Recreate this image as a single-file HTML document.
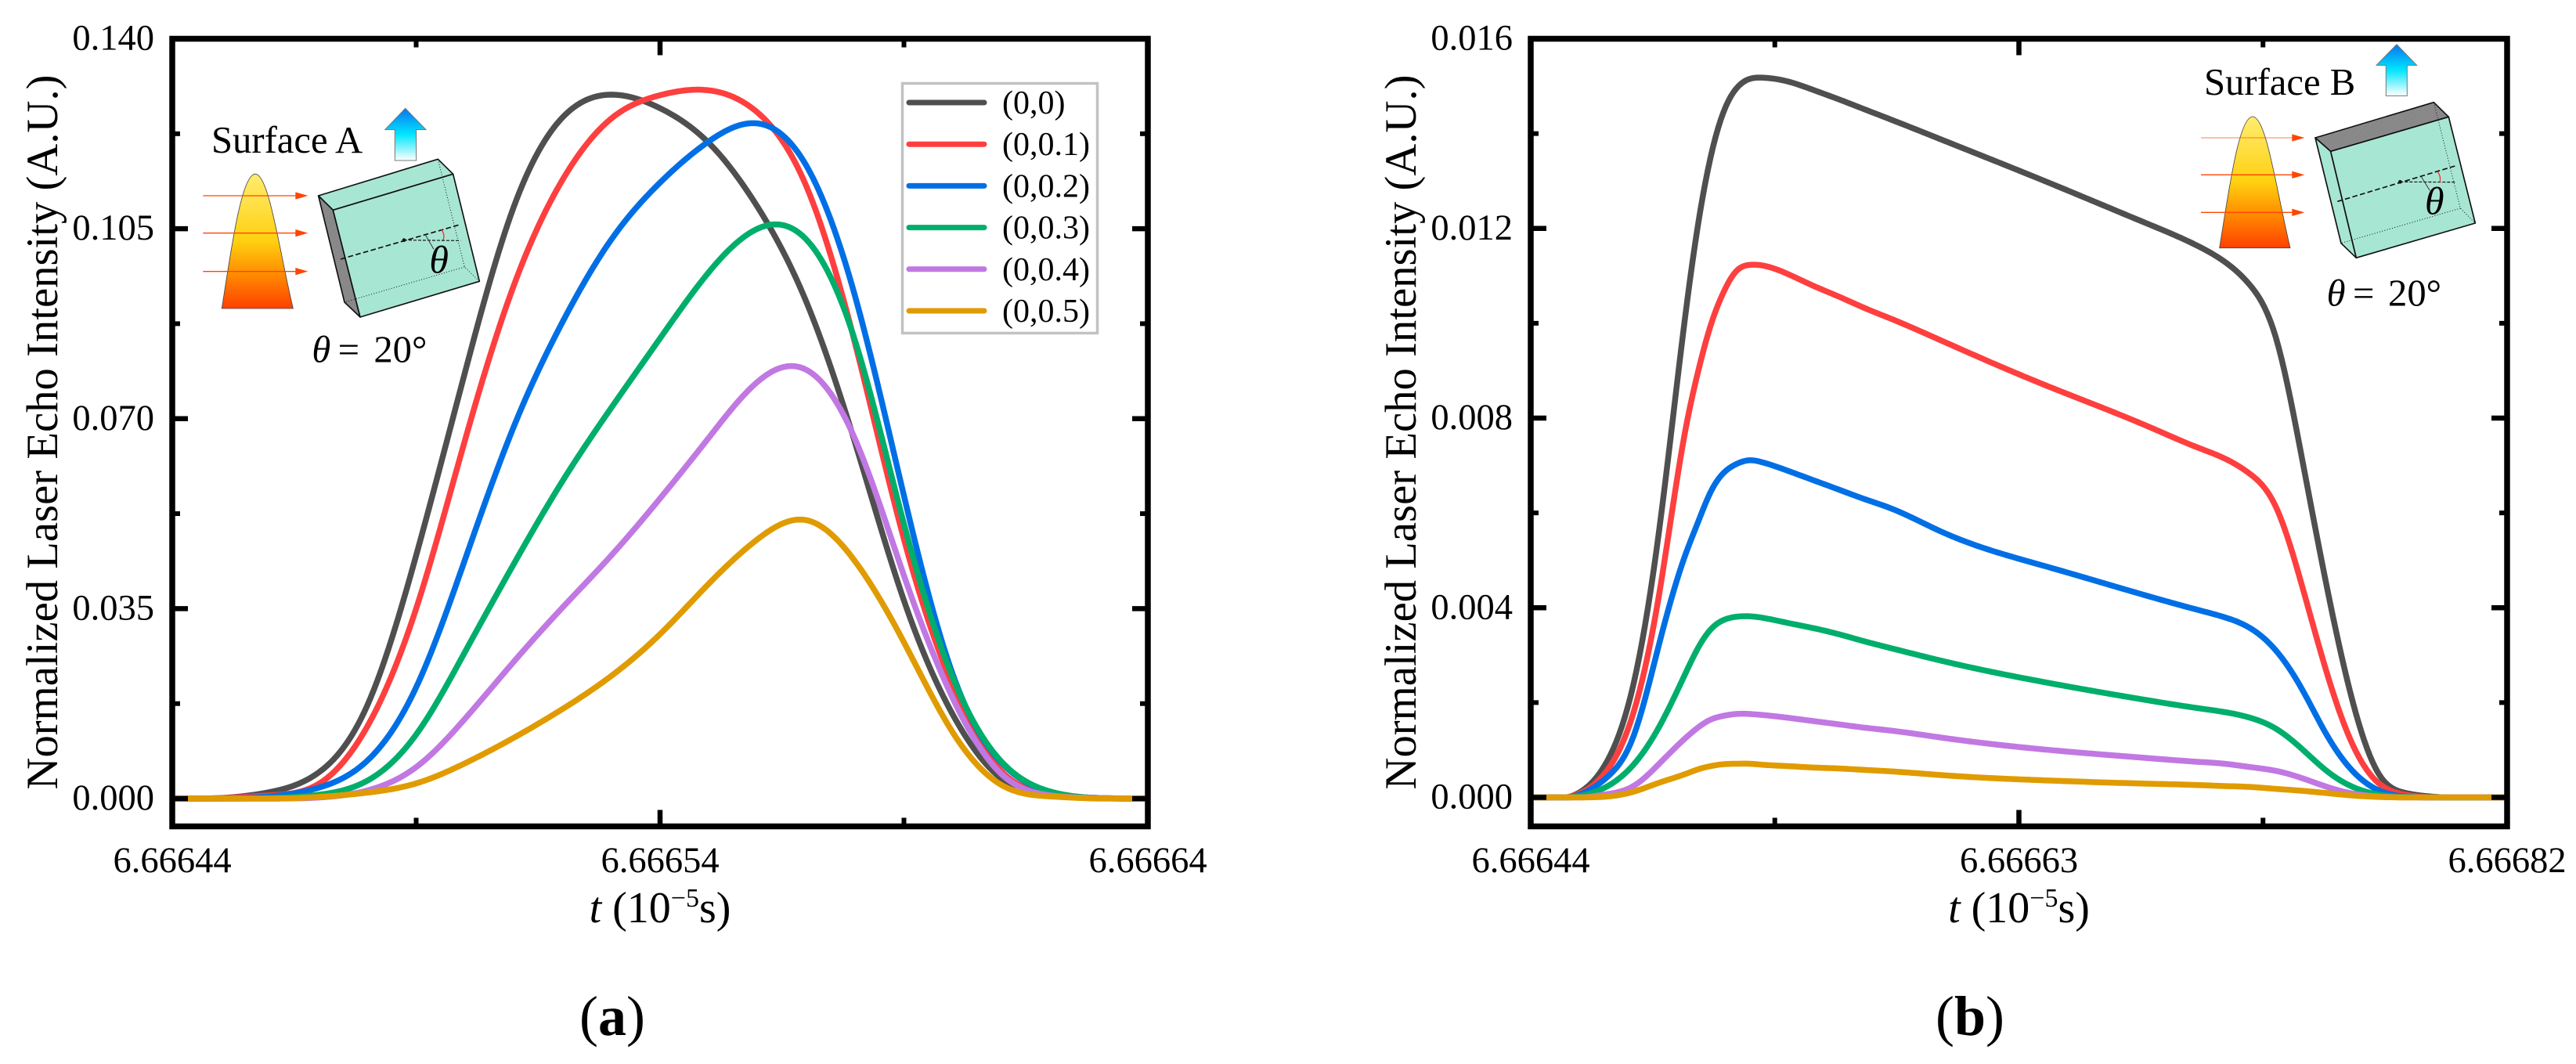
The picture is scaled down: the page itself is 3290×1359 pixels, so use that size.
<!DOCTYPE html>
<html lang="en">
<head>
<meta charset="utf-8">
<title>Laser echo intensity charts</title>
<style>
html,body{margin:0;padding:0;background:#fff;}
svg{display:block;font-family:"Liberation Serif","DejaVu Serif",serif;}
</style>
</head>
<body>
<svg id="figure" xmlns="http://www.w3.org/2000/svg" width="3290" height="1359" viewBox="0 0 3290 1359">
<defs>
  <linearGradient id="arrowGrad" x1="0" y1="0" x2="0" y2="1">
    <stop offset="0" stop-color="#0a74f0"/><stop offset="0.5" stop-color="#00e6ff"/><stop offset="1" stop-color="#ffffff"/>
  </linearGradient>
  <linearGradient id="beamGrad" x1="0" y1="0" x2="0" y2="1">
    <stop offset="0" stop-color="#ffec70"/><stop offset="0.5" stop-color="#ffd010"/><stop offset="0.75" stop-color="#ff8a00"/><stop offset="1" stop-color="#ff4000"/>
  </linearGradient>
  <pattern id="hatch" width="5" height="5" patternUnits="userSpaceOnUse" patternTransform="rotate(45)">
    <rect width="5" height="5" fill="#9a9a9a"/><rect width="2" height="5" fill="#6e6e6e"/>
  </pattern>
</defs>
<rect width="3290" height="1359" fill="#fff"/>

<g id="panelA"></g>
<g id="panelB"></g>

<!-- Inset A -->
<g transform="translate(240,120) scale(0.33333)">
  <text x="90" y="225" font-size="146">Surface A</text>
  <path d="M833 55 L912 137 L875 137 L875 255 L793 255 L793 137 L755 137 Z" fill="url(#arrowGrad)" stroke="#777" stroke-width="3"/>
  <path d="M130 822 C165 600 205 307 258 307 C311 307 350 600 403 822 Z" fill="url(#beamGrad)" stroke="#444" stroke-width="2.5"/>
  <g stroke="#ff4500" stroke-width="4" fill="#ff4500">
    <line x1="58" y1="390" x2="415" y2="390"/><path d="M412 376 L460 390 L412 404 Z" stroke="none"/>
    <line x1="58" y1="533" x2="415" y2="533"/><path d="M412 519 L460 533 L412 547 Z" stroke="none"/>
    <line x1="58" y1="680" x2="415" y2="680"/><path d="M412 666 L460 680 L412 694 Z" stroke="none"/>
  </g>
  <g stroke="#111" stroke-width="5" stroke-linejoin="round">
    <path d="M500 390 L958 250 L1016 307 L556 445 Z" fill="#a8e6d4"/>
    <path d="M500 390 L556 445 L660 855 L600 798 Z" fill="url(#hatch)"/>
    <path d="M556 445 L1016 307 L1117 718 L660 855 Z" fill="#a8e6d4"/>
    <path d="M958 250 L1060 663 L1117 718 M1060 663 L600 798" fill="none" stroke-width="3" stroke-dasharray="3 7"/>
    <path d="M585 633 L1045 500" fill="none" stroke-width="5" stroke-dasharray="20 10"/>
    <path d="M828 560 L1045 562" fill="none" stroke-width="3.5" stroke-dasharray="12 6"/>
    <circle cx="828" cy="560" r="7" fill="#111" stroke="none"/>
    <path d="M972 520 Q986 540 978 560" fill="none" stroke="#f03030" stroke-width="4"/>
    <path d="M910 540 L942 595" fill="none" stroke="#333" stroke-width="3"/>
  </g>
  <text x="925" y="685" font-size="150" font-style="italic">θ</text>
  <text y="1028" font-size="146"><tspan x="475" font-style="italic">θ</tspan><tspan x="575">=</tspan><tspan x="712">20°</tspan></text>
</g>

<!-- Inset B -->
<g transform="translate(2750,40) scale(0.33333)">
  <text x="195" y="243" font-size="146">Surface B</text>
  <path d="M933 50 L1010 130 L973 130 L973 247 L892 247 L892 130 L855 130 Z" fill="url(#arrowGrad)" stroke="#777" stroke-width="3"/>
  <path d="M254 830 C290 610 328 327 381 327 C434 327 472 610 525 830 Z" fill="url(#beamGrad)" stroke="#444" stroke-width="2.5"/>
  <g stroke="#ff4500" stroke-width="4" fill="#ff4500">
    <line x1="183" y1="408" x2="535" y2="408" opacity="0.55"/><path d="M532 394 L580 408 L532 422 Z" stroke="none"/>
    <line x1="183" y1="550" x2="535" y2="550"/><path d="M532 536 L580 550 L532 564 Z" stroke="none"/>
    <line x1="183" y1="694" x2="535" y2="694"/><path d="M532 680 L580 694 L532 708 Z" stroke="none"/>
  </g>
  <g stroke="#111" stroke-width="5" stroke-linejoin="round">
    <path d="M621 408 L1075 272 L1132 328 L680 460 Z" fill="url(#hatch)"/>
    <path d="M621 408 L680 460 L778 868 L720 812 Z" fill="#a8e6d4"/>
    <path d="M680 460 L1132 328 L1234 735 L778 868 Z" fill="#a8e6d4"/>
    <path d="M1075 272 L1177 678 L1234 735 M1177 678 L720 812" fill="none" stroke-width="3" stroke-dasharray="3 7"/>
    <path d="M706 652 L1160 515" fill="none" stroke-width="5" stroke-dasharray="20 10"/>
    <path d="M946 577 L1160 578" fill="none" stroke-width="3.5" stroke-dasharray="12 6"/>
    <circle cx="946" cy="577" r="7" fill="#111" stroke="none"/>
    <path d="M1090 537 Q1104 558 1098 578" fill="none" stroke="#f03030" stroke-width="4"/>
    <path d="M1027 557 L1060 610" fill="none" stroke="#333" stroke-width="3"/>
  </g>
  <text x="1041" y="700" font-size="150" font-style="italic">θ</text>
  <text y="1052" font-size="146"><tspan x="665" font-style="italic">θ</tspan><tspan x="765">=</tspan><tspan x="900">20°</tspan></text>
</g>

<!-- Legend -->
<g id="legend">
  <rect x="1152.5" y="106.5" width="249" height="319" fill="#fff" stroke="#c2c2c2" stroke-width="3.5"/>
</g>

<text x="782" y="1322" font-size="72" text-anchor="middle">(<tspan font-weight="bold">a</tspan>)</text>
<text x="2516" y="1322" font-size="72" text-anchor="middle">(<tspan font-weight="bold">b</tspan>)</text>
</svg>

<script>
// Shared series
const seriesNames = ["(0,0)", "(0,0.1)", "(0,0.2)", "(0,0.3)", "(0,0.4)", "(0,0.5)"];
const seriesColors = ["#4f4f4f", "#fe3f3f", "#006fe5", "#00ae6b", "#c178e2", "#e09b00"];

// Panel (a) data
const timeA = [6.66644,6.66645,6.66646,6.66647,6.66648,6.66649,6.6665,6.66651,6.66652,6.66653,6.66654,6.66655,6.66656,6.66657,6.66658,6.66659,6.6666,6.66661,6.66662,6.66663,6.66664];
const a00 = [0,.0001,.0012,.0048,.0172,.0448,.0785,.1090,.1255,.1297,.1272,.1208,.1090,.0915,.0655,.0365,.0155,.0037,.0007,.0001,0];
const a01 = [0,.0001,.0006,.0027,.0133,.0350,.0660,.0945,.1140,.1253,.1296,.1305,.1264,.1128,.0838,.0478,.0207,.0050,.0008,.0001,0];
const a02 = [0,.0000,.0004,.0020,.0070,.0205,.0440,.0685,.0878,.1030,.1135,.1211,.1244,.1166,.0925,.0558,.0229,.0066,.0012,.0001,0];
const a03 = [0,.0000,.0001,.0007,.0033,.0118,.0270,.0432,.0585,.0720,.0848,.0970,.1050,.1030,.0843,.0506,.0223,.0068,.0013,.0001,0];
const a04 = [0,.0000,.0000,.0002,.0015,.0058,.0147,.0252,.0352,.0448,.0553,.0665,.0768,.0790,.0662,.0411,.0185,.0045,.0006,.0001,0];
const a05 = [0,.0000,.0000,.0003,.0011,.0028,.0065,.0112,.0165,.0226,.0303,.0396,.0478,.0513,.0437,.0288,.0122,.0025,.0004,.0000,0];
const xTicksA = [6.66644, 6.66654, 6.66664];
const xTickLabelsA = ["6.66644", "6.66654", "6.66664"];
const xMinorA = [6.66649, 6.66659];
const yTicksA = [0, 0.035, 0.07, 0.105, 0.14];
const yTickLabelsA = ["0.000", "0.035", "0.070", "0.105", "0.140"];
const yMinorA = [0.0175, 0.0525, 0.0875, 0.1225];

// Panel (b) data
const timeB = [6.66644,6.66646,6.66647,6.66648,6.66649,6.6665,6.666505,6.66651,6.666515,6.66652,6.666525,6.66653,6.66654,6.66655,6.66656,6.66657,6.66658,6.6666,6.66664,6.66668,6.6667,6.66671,6.66672,6.66673,6.66674,6.66675,6.66676,6.66677,6.66678,6.66679,6.66682];
const b00 = [0,.00014,.00079,.00239,.00564,.01009,.01204,.0135,.01445,.01495,.01515,.01518,.0151,.01492,.01472,.01451,.0143,.01387,.013,.0121,.01162,.0113,.0108,.0097,.0072,.0044,.002,.0005,.0001,.00002,0];
const b01 = [0,.00011,.00059,.00179,.00429,.00769,.00895,.00995,.01065,.0111,.01123,.01122,.01104,.01079,.01056,.01032,.0101,.00963,.0087,.00783,.00737,.00715,.00682,.00613,.0045,.0026,.0011,.0003,.00006,0,0];
const b02 = [0,.00008,.00044,.00129,.00324,.00509,.00579,.00644,.00684,.00703,.00711,.00707,.00689,.00669,.00649,.00629,.0061,.0056,.00488,.00425,.00395,.0038,.00357,.0031,.0023,.0013,.00055,.00015,.00002,0,0];
const b03 = [0,.00004,.00024,.00069,.00149,.00259,.00314,.00354,.00374,.00381,.00382,.00379,.00368,.00357,.00344,.00329,.00315,.00288,.00243,.00205,.00188,.0018,.00168,.00145,.00103,.00055,.00022,.00006,.00001,0,0];
const b04 = [0,0,.00007,.00024,.00071,.00124,.00147,.00164,.00172,.00176,.00176,.00174,.00168,.00161,.00154,.00147,.00141,.00126,.00101,.00083,.00075,.00071,.00064,.00056,.00041,.00022,.00008,.00002,0,0,0];
const b05 = [0,0,.00002,.00012,.00031,.00049,.00059,.00066,.0007,.00071,.00071,.00069,.00066,.00063,.00061,.00058,.00055,.00047,.00036,.00029,.00026,.00024,.00022,.00018,.00014,.00009,.00004,.00001,0,0,0];
const xTicksB = [6.66644, 6.66663, 6.66682];
const xTickLabelsB = ["6.66644", "6.66663", "6.66682"];
const xMinorB = [6.666535, 6.666725];
const yTicksB = [0, 0.004, 0.008, 0.012, 0.016];
const yTickLabelsB = ["0.000", "0.004", "0.008", "0.012", "0.016"];
const yMinorB = [0.002, 0.006, 0.01, 0.014];

const NS = "http://www.w3.org/2000/svg";

function svgEl(parent, tag, attrs) {
  const el = document.createElementNS(NS, tag);
  for (const k in attrs) el.setAttribute(k, attrs[k]);
  parent.appendChild(el);
  return el;
}

// Natural cubic spline through the mapped data points, flattened to a fine polyline.
function curvePath(xs, ys, maxY) {
  const n = xs.length, c = new Array(n).fill(0), sub = new Array(n).fill(0), rhs = new Array(n).fill(0);
  for (let i = 1; i < n - 1; i++) {
    const h0 = xs[i] - xs[i - 1], h1 = xs[i + 1] - xs[i];
    const w = 2 * (h0 + h1) - h0 * sub[i - 1];
    sub[i] = h1 / w;
    rhs[i] = (6 * ((ys[i + 1] - ys[i]) / h1 - (ys[i] - ys[i - 1]) / h0) - h0 * rhs[i - 1]) / w;
  }
  for (let i = n - 2; i > 0; i--) c[i] = rhs[i] - sub[i] * c[i + 1];
  let d = "M" + xs[0].toFixed(2) + " " + Math.min(ys[0], maxY).toFixed(2);
  for (let i = 0; i < n - 1; i++) {
    const h = xs[i + 1] - xs[i], steps = Math.max(2, Math.ceil(h / 4));
    for (let s = 1; s <= steps; s++) {
      const b = s / steps, a = 1 - b;
      const y = a * ys[i] + b * ys[i + 1] + ((a * a * a - a) * c[i] + (b * b * b - b) * c[i + 1]) * h * h / 6;
      d += " L" + (xs[i] + b * h).toFixed(2) + " " + Math.min(y, maxY).toFixed(2);
    }
  }
  return d;
}

function drawPanel(g, cfg) {
  const xScale = t => cfg.left + (t - cfg.xDomain[0]) / (cfg.xDomain[1] - cfg.xDomain[0]) * (cfg.right - cfg.left);
  const yScale = v => cfg.y0 - v / cfg.yMax * (cfg.y0 - cfg.top);
  const frameTop = cfg.top, frameBottom = 1055.5;

  cfg.series.forEach((vals, i) => {
    const path = svgEl(g, "path", {
      d: curvePath(cfg.time.map(xScale), vals.map(yScale), cfg.y0),
      fill: "none", stroke: seriesColors[i], "stroke-width": 7.5, "stroke-linejoin": "round"
    });
    
    
  });

  const tick = (x1, y1, x2, y2, w, name) => {
    const l = svgEl(g, "line", { x1, y1, x2, y2, stroke: "#000", "stroke-width": w });
    
    
  };
  cfg.xTicks.forEach((t, i) => {
    const x = xScale(t);
    tick(x, frameTop, x, frameTop + 21, 6.5, "x-major-tick-top");
    tick(x, frameBottom, x, frameBottom - 21, 6.5, "x-major-tick-bottom");
    const lab = svgEl(g, "text", { x, y: 1114, "font-size": 46.5, "text-anchor": "middle" });
    lab.textContent = cfg.xLabels[i];
    
    
  });
  cfg.xMinor.forEach(t => {
    const x = xScale(t);
    tick(x, frameTop, x, frameTop + 11, 6, "x-minor-tick-top");
    tick(x, frameBottom, x, frameBottom - 11, 6, "x-minor-tick-bottom");
  });
  cfg.yTicks.forEach((v, i) => {
    const y = yScale(v);
    if (i !== cfg.yTicks.length - 1) {
      tick(cfg.left, y, cfg.left + 20, y, 6.5, "y-major-tick-left");
      tick(cfg.right, y, cfg.right - 20, y, 6.5, "y-major-tick-right");
    }
    const lab = svgEl(g, "text", { x: cfg.left - 23, y: y + 14, "font-size": 46.5, "text-anchor": "end" });
    lab.textContent = cfg.yLabels[i];
    
    
  });
  cfg.yMinor.forEach(v => {
    const y = yScale(v);
    tick(cfg.left, y, cfg.left + 10, y, 6, "y-minor-tick-left");
    tick(cfg.right, y, cfg.right - 10, y, 6, "y-minor-tick-right");
  });

  const frame = svgEl(g, "rect", {
    x: cfg.left, y: frameTop, width: cfg.right - cfg.left, height: frameBottom - frameTop,
    fill: "none", stroke: "#000", "stroke-width": 7.5
  });
  
  

  const xTitle = svgEl(g, "text", { x: (cfg.left + cfg.right) / 2, y: 1178, "font-size": 56, "text-anchor": "middle" });
  
  
  const tItalic = svgEl(xTitle, "tspan", { "font-style": "italic" });
  tItalic.textContent = "t";
  const t2 = svgEl(xTitle, "tspan", {});
  t2.textContent = " (10";
  const t3 = svgEl(xTitle, "tspan", { dy: -20, "font-size": 34 });
  t3.textContent = "−5";
  const t4 = svgEl(xTitle, "tspan", { dy: 20 });
  t4.textContent = "s)";

  const cy = 552;
  const yTitle = svgEl(g, "text", {
    x: 0, y: 0, "font-size": 56.7, "text-anchor": "middle",
    transform: "translate(" + cfg.yTitleX + "," + cy + ") rotate(-90)"
  });
  yTitle.textContent = "Normalized Laser Echo Intensity (A.U.)";
  
  
}

drawPanel(document.getElementById("panelA"), {
  left: 220, right: 1466, top: 49.5, y0: 1020, yMax: 0.14,
  xDomain: [6.66644, 6.66664], time: timeA, series: [a00, a01, a02, a03, a04, a05],
  xTicks: xTicksA, xLabels: xTickLabelsA, xMinor: xMinorA,
  yTicks: yTicksA, yLabels: yTickLabelsA, yMinor: yMinorA, yTitleX: 73
});
drawPanel(document.getElementById("panelB"), {
  left: 1955, right: 3202, top: 49.5, y0: 1018.5, yMax: 0.016,
  xDomain: [6.66644, 6.66682], time: timeB, series: [b00, b01, b02, b03, b04, b05],
  xTicks: xTicksB, xLabels: xTickLabelsB, xMinor: xMinorB,
  yTicks: yTicksB, yLabels: yTickLabelsB, yMinor: yMinorB, yTitleX: 1808
});

const legend = document.getElementById("legend");
seriesNames.forEach((name, i) => {
  const rowY = 131 + i * 53.2;
  const line = svgEl(legend, "line", {
    x1: 1161, x2: 1257, y1: rowY, y2: rowY, stroke: seriesColors[i], "stroke-width": 7, "stroke-linecap": "round"
  });
  
  
  const text = svgEl(legend, "text", { x: 1280, y: rowY + 14, "font-size": 42 });
  text.textContent = name;
  
  
});
</script>
</body>
</html>
